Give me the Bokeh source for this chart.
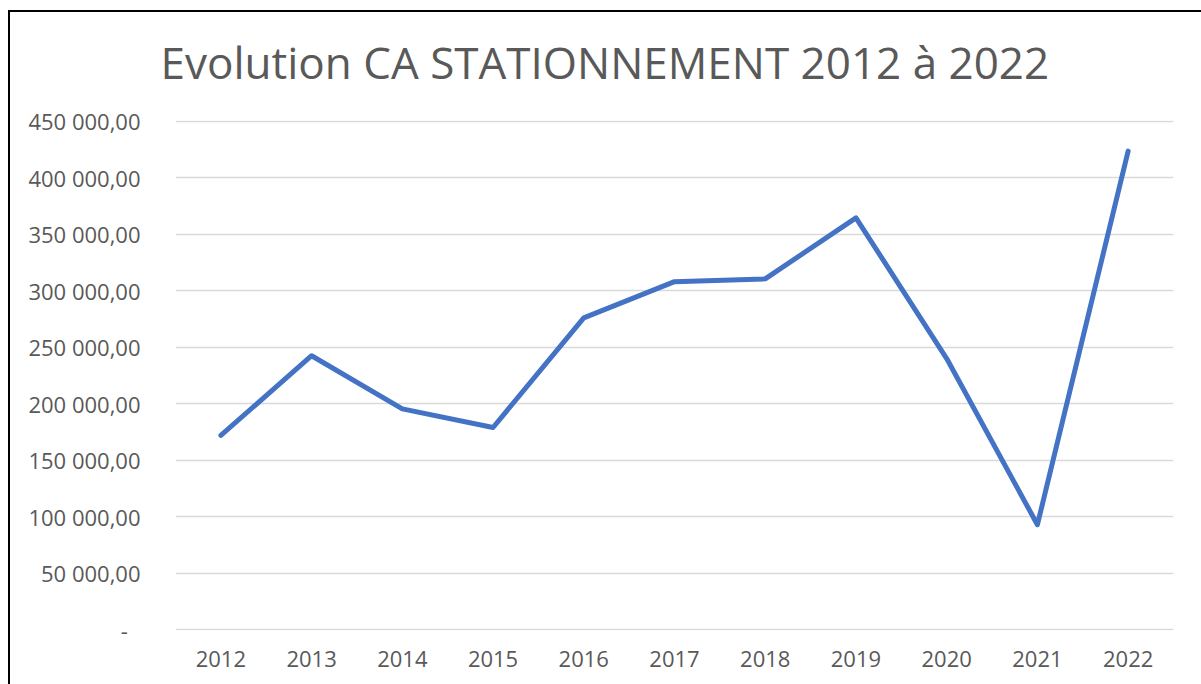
from bokeh.plotting import figure
from bokeh.models import Range1d, FixedTicker, Title
from bokeh.embed import file_html
from bokeh.resources import INLINE

years = ["2012", "2013", "2014", "2015", "2016", "2017", "2018", "2019", "2020", "2021", "2022"]
ca = [172000, 242500, 195500, 179000, 276000, 308000, 310500, 364500, 240000, 93000, 423500]

y_ticks = [0, 50000, 100000, 150000, 200000, 250000, 300000, 350000, 400000, 450000]
y_tick_labels = ["-\u2007", "50 000,00", "100 000,00", "150 000,00", "200 000,00",
                 "250 000,00", "300 000,00", "350 000,00", "400 000,00", "450 000,00"]
title_text = "Evolution CA STATIONNEMENT 2012 à 2022"

FONT = "Open Sans"
GREY = "#595959"

p = figure(x_range=years, y_range=Range1d(-600, 450600), width=1193, height=684,
           output_backend="svg", toolbar_location=None,
           min_border_left=167, min_border_right=28, min_border_top=120, min_border_bottom=54)

p.line(years, ca, line_color="#4472C4", line_width=5, line_join="round", line_cap="round")

t = Title(text=title_text, align="left", offset=-15, text_font=FONT, text_font_size="44px",
          text_color=GREY, text_font_style="normal", standoff=58)
p.add_layout(t, "above")

# transparent canvas border area so that the frame lines of the chart box show through
p.border_fill_color = None
p.outline_line_color = None
p.styles = {
    "margin-left": "8px",
    "background-color": "#ffffff",
    "background-image": "linear-gradient(#000000, #000000), linear-gradient(#000000, #000000)",
    "background-position": "0px 10px, 0px 10px",
    "background-size": "100% 2px, 2px 100%",
    "background-repeat": "no-repeat, no-repeat",
}

p.yaxis.ticker = FixedTicker(ticks=y_ticks)
p.yaxis.major_label_overrides = {tk: lb for tk, lb in zip(y_ticks, y_tick_labels)}
for ax in (p.xaxis[0], p.yaxis[0]):
    ax.axis_line_color = None
    ax.major_tick_line_color = None
    ax.minor_tick_line_color = None
    ax.major_label_text_font = FONT
    ax.major_label_text_font_size = "22px"
    ax.major_label_text_color = GREY
p.yaxis.major_label_standoff = 29
p.xaxis.major_label_standoff = 14

p.xgrid.grid_line_color = None
p.ygrid.grid_line_color = "#D9D9D9"
p.ygrid.grid_line_width = 1.5
p.x_range.range_padding = 0

open("out.html", "w").write(file_html(p, INLINE))
